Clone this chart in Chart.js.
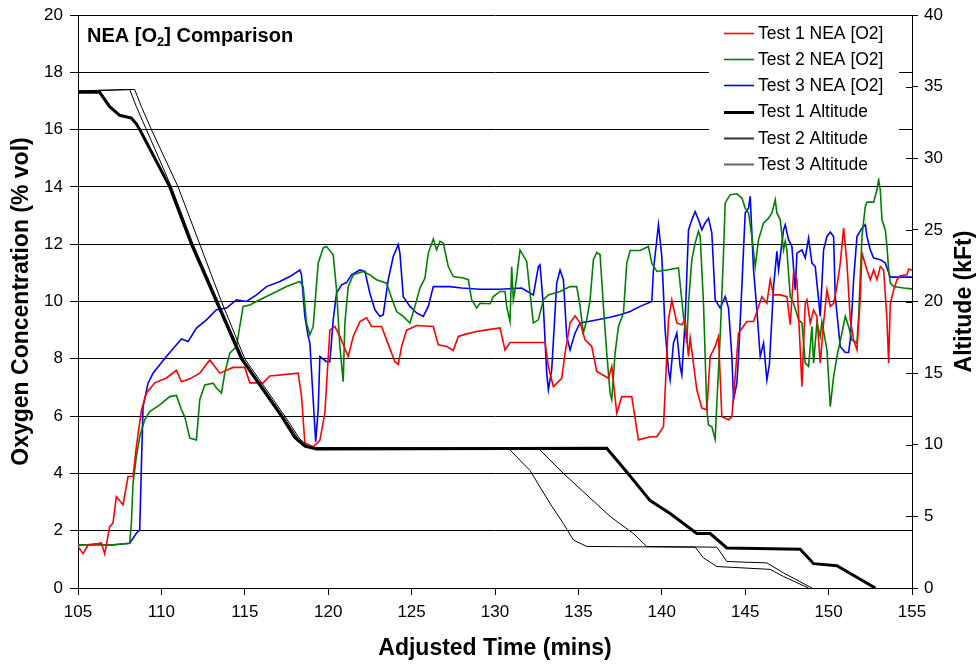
<!DOCTYPE html>
<html>
<head>
<meta charset="utf-8">
<script src="https://cdn.jsdelivr.net/npm/chart.js@4.4.0/dist/chart.umd.min.js"></script>
<style>
html,body{margin:0;padding:0;background:#fff;}
#wrap{width:977px;height:665px;position:relative;}
</style>
</head>
<body>
<div id="wrap"><canvas id="c" width="977" height="665"></canvas></div>
<script>
// ---------- text ----------
const chartTitle = ['NEA [O', '2', '] Comparison'];
const seriesLabels = ['Test 1 NEA [O2]', 'Test 2 NEA [O2]', 'Test 3 NEA [O2]', 'Test 1 Altitude', 'Test 2 Altitude', 'Test 3 Altitude'];
const xTitle = 'Adjusted Time (mins)';
const yTitle = 'Oxygen Concentration (% vol)';
const y2Title = 'Altitude (kFt)';

// ---------- data: [time (mins), value] ----------
const test1Nea = [[105,1.45],[105.3,1.2],[105.6,1.5],[106.2,1.55],[106.4,1.57],[106.6,1.19],[106.9,2.14],[107.1,2.27],[107.3,3.19],[107.7,2.9],[108.0,3.89],[108.3,3.9],[108.5,4.94],[108.8,6.2],[109.1,6.8],[109.6,7.16],[110.3,7.33],[110.9,7.6],[111.2,7.2],[111.7,7.3],[112.3,7.5],[112.9,7.96],[113.5,7.5],[114.3,7.7],[115.0,7.7],[115.3,7.16],[116.1,7.16],[116.5,7.4],[118.2,7.5],[118.4,6.7],[118.6,5.06],[119.1,4.93],[119.5,5.15],[119.8,6.1],[120.1,9.0],[120.4,9.13],[120.7,8.78],[121.2,8.08],[121.5,8.78],[121.9,9.3],[122.3,9.43],[122.6,9.13],[123.2,9.13],[123.5,8.66],[124.0,7.9],[124.2,7.8],[124.4,8.43],[124.7,9.0],[125.3,9.16],[126.3,9.13],[126.6,8.49],[127.1,8.43],[127.5,8.29],[127.8,8.78],[128.3,8.87],[128.9,8.95],[129.5,9.01],[130.3,9.08],[130.6,8.31],[130.9,8.57],[132.3,8.57],[133.0,8.57],[133.2,7.73],[133.5,7.03],[134.0,7.32],[134.2,8.2],[134.5,9.25],[134.8,9.5],[135.1,9.25],[135.4,8.66],[135.8,8.43],[136.1,7.56],[136.8,7.32],[137.0,7.73],[137.3,6.1],[137.6,6.68],[138.2,6.68],[138.6,5.17],[139.3,5.28],[139.7,5.28],[140.1,5.63],[140.4,9.36],[140.6,10.06],[140.9,9.25],[141.2,9.19],[141.4,9.36],[141.6,8.08],[141.7,8.72],[142.1,6.92],[142.4,6.28],[142.7,6.22],[142.9,8.08],[143.2,8.43],[143.4,8.78],[143.6,5.98],[144.0,5.87],[144.2,5.98],[144.4,7.38],[144.6,8.9],[145.1,9.3],[145.5,9.3],[146.0,10.17],[146.3,9.94],[146.5,10.76],[146.7,10.23],[147.1,10.23],[147.5,10.17],[147.7,9.19],[147.9,11.0],[148.1,10.76],[148.3,8.31],[148.4,7.03],[148.6,9.94],[148.7,10.06],[148.9,9.25],[149.1,9.7],[149.3,9.48],[149.5,7.85],[149.7,9.25],[149.9,10.4],[150.1,9.83],[150.3,9.94],[150.5,10.52],[150.7,11.34],[150.9,12.56],[151.1,11.34],[151.3,9.36],[151.5,8.66],[151.7,8.31],[151.9,10.17],[152.0,11.69],[152.3,11.1],[152.5,10.76],[152.7,11.1],[152.9,10.76],[153.1,11.22],[153.3,11.1],[153.5,9.36],[153.6,7.85],[153.7,9.94],[153.9,10.4],[154.1,10.76],[154.3,10.9],[154.7,10.93],[154.8,11.13],[155,11.1]];

const test2Nea = [[105,1.5],[106,1.52],[107,1.5],[108.1,1.56],[108.2,2.27],[108.3,3.66],[108.5,4.59],[108.7,5.28],[109.0,5.87],[109.3,6.16],[109.9,6.39],[110.5,6.68],[110.9,6.72],[111.2,6.22],[111.4,5.98],[111.7,5.23],[112.1,5.17],[112.3,6.57],[112.6,7.09],[113.1,7.15],[113.3,6.98],[113.6,6.8],[113.8,7.5],[114.1,8.2],[114.5,8.43],[114.7,9.13],[114.9,9.83],[115.3,9.88],[115.9,10.06],[116.7,10.29],[117.5,10.52],[118.3,10.7],[118.5,10.52],[118.7,9.25],[118.9,8.84],[119.1,9.13],[119.4,11.34],[119.7,11.87],[119.9,11.92],[120.3,11.63],[120.5,10.4],[120.7,8.43],[120.9,7.2],[121.0,9.25],[121.2,10.52],[121.5,10.93],[122.1,11.05],[122.5,10.93],[122.9,10.76],[123.5,10.64],[123.8,10.12],[124.1,9.65],[124.5,9.48],[124.9,9.25],[125.2,9.83],[125.5,10.47],[125.8,10.82],[126.0,11.69],[126.3,12.18],[126.5,11.8],[126.7,12.1],[126.9,12.04],[127.2,11.22],[127.5,10.87],[128.1,10.82],[128.4,10.76],[128.6,10.06],[128.9,9.77],[129.1,9.94],[129.7,9.92],[129.9,10.17],[130.3,10.35],[130.6,10.35],[130.7,9.83],[130.9,9.3],[131.0,11.22],[131.1,10.06],[131.2,10.4],[131.5,11.8],[131.9,11.4],[132.1,10.29],[132.3,9.25],[132.6,9.36],[132.9,10.06],[133.2,10.23],[133.9,10.35],[134.5,10.52],[134.9,10.52],[135.1,9.83],[135.3,8.9],[135.5,9.36],[135.7,10.06],[135.9,11.46],[136.1,11.71],[136.3,11.63],[136.5,9.83],[136.7,8.2],[136.9,6.8],[137.0,6.57],[137.2,8.2],[137.4,9.13],[137.7,9.6],[137.9,11.34],[138.1,11.78],[138.7,11.78],[139.2,11.92],[139.4,11.34],[139.7,11.05],[140.3,11.1],[141.0,11.17],[141.3,9.48],[141.5,8.55],[141.6,9.94],[141.8,11.46],[142.0,12.04],[142.2,12.45],[142.3,12.27],[142.5,9.94],[142.7,6.22],[142.8,5.69],[143.0,5.63],[143.2,5.19],[143.3,6.45],[143.5,8.78],[143.7,11.69],[143.8,13.44],[144.1,13.73],[144.5,13.76],[144.8,13.61],[145.0,13.26],[145.2,13.09],[145.4,12.27],[145.6,11.22],[145.8,12.16],[146.1,12.74],[146.4,12.91],[146.6,13.09],[146.8,13.55],[146.9,13.09],[147.1,12.85],[147.3,11.8],[147.4,12.1],[147.5,11.8],[147.7,10.17],[147.9,9.94],[148.2,9.36],[148.4,9.25],[148.5,8.55],[148.6,7.85],[148.8,7.73],[149.0,9.13],[149.1,7.85],[149.3,9.25],[149.5,8.78],[149.6,9.3],[149.9,8.31],[150.1,6.33],[150.3,7.38],[150.5,8.08],[150.8,8.9],[151.0,9.48],[151.2,9.13],[151.4,8.66],[151.7,8.55],[151.8,9.48],[152.0,12.27],[152.2,13.32],[152.3,13.47],[152.7,13.47],[152.9,13.9],[153.0,14.25],[153.1,13.9],[153.2,12.85],[153.4,12.5],[153.5,11.92],[153.6,11.1],[153.7,10.64],[153.9,10.52],[154.5,10.47],[155,10.44]];

const test3Nea = [[105,1.5],[106,1.52],[107,1.5],[108.1,1.56],[108.5,1.91],[108.7,2.03],[108.8,4.24],[108.9,6.33],[109.2,7.15],[109.5,7.5],[109.9,7.79],[110.3,8.08],[110.9,8.49],[111.2,8.69],[111.6,8.6],[112.1,9.07],[112.7,9.36],[113.3,9.71],[113.9,9.77],[114.5,10.06],[115.1,10.0],[115.7,10.23],[116.3,10.52],[117.1,10.7],[117.7,10.87],[118.3,11.1],[118.4,10.93],[118.6,9.48],[118.8,8.78],[118.9,8.55],[119.1,6.57],[119.25,5.11],[119.4,6.22],[119.5,8.08],[119.9,7.9],[120.1,7.9],[120.3,9.36],[120.5,10.29],[120.8,10.58],[121.1,10.66],[121.4,10.93],[121.9,11.1],[122.2,11.05],[122.5,10.29],[122.8,9.71],[123.1,9.48],[123.3,9.54],[123.6,10.76],[123.9,11.57],[124.2,11.98],[124.3,11.69],[124.5,10.17],[124.9,9.83],[125.3,9.6],[125.7,9.48],[126.0,9.83],[126.3,10.52],[127.3,10.52],[128.0,10.47],[129.1,10.43],[130.3,10.43],[131.6,10.47],[132.3,10.23],[132.6,11.22],[132.7,11.28],[132.9,9.83],[133.1,7.5],[133.2,6.92],[133.4,7.61],[133.7,10.64],[133.9,11.1],[134.1,10.76],[134.3,8.78],[134.5,8.31],[134.8,8.9],[135.1,9.25],[135.6,9.3],[136.3,9.38],[136.9,9.45],[137.5,9.54],[138.1,9.65],[138.7,9.83],[139.4,10.0],[139.5,11.1],[139.8,12.68],[140.0,11.57],[140.2,9.0],[140.4,7.61],[140.5,7.26],[140.7,8.55],[140.9,8.9],[141.1,7.73],[141.2,7.44],[141.4,9.36],[141.6,12.5],[141.8,12.85],[142.0,13.14],[142.2,12.85],[142.4,12.5],[142.6,12.74],[142.8,12.91],[143.0,12.39],[143.2,10.06],[143.5,9.77],[143.8,10.17],[144.0,9.77],[144.2,8.08],[144.3,6.57],[144.5,7.15],[144.6,8.08],[144.8,10.52],[145.0,13.09],[145.2,13.26],[145.3,13.67],[145.5,11.1],[145.7,9.71],[145.9,8.08],[146.1,8.55],[146.3,7.26],[146.45,7.8],[146.7,10.52],[146.9,11.75],[147.0,11.1],[147.3,12.5],[147.4,12.68],[147.6,12.16],[147.8,11.92],[148.0,10.4],[148.1,11.69],[148.4,11.8],[148.6,11.52],[148.8,12.21],[149.0,11.34],[149.2,11.22],[149.5,9.48],[149.7,11.8],[149.9,12.27],[150.1,12.42],[150.3,12.27],[150.4,10.17],[150.7,8.43],[151.0,8.22],[151.2,8.22],[151.3,8.66],[151.5,10.76],[151.7,12.27],[152.0,12.56],[152.2,12.68],[152.3,12.27],[152.5,11.8],[152.7,11.52],[153.1,11.46],[153.4,11.34],[153.7,10.85],[155,10.85]];

const test1Alt = [[105,34.6],[106.3,34.6],[106.9,33.6],[107.5,33.0],[108.2,32.8],[108.5,32.4],[108.7,32.0],[110.5,28.0],[111.8,24.0],[113.3,20.0],[114.8,16.0],[116.0,14.0],[117.2,12.0],[118.0,10.5],[118.6,9.9],[119.3,9.7],[136.7,9.76],[137.9,8.1],[139.3,6.1],[140.5,5.2],[142.1,3.8],[142.9,3.8],[143.9,2.8],[148.3,2.7],[149.1,1.7],[150.5,1.55],[152.8,0]];

const test2Alt = [[105,34.7],[108.1,34.8],[108.5,33.6],[109.1,32.0],[110.6,28.0],[111.9,24.0],[113.4,20.0],[114.9,16.0],[117.3,12.0],[118.2,10.4],[118.8,9.8],[130.8,9.75],[132.1,8.2],[133.3,5.9],[134.1,4.5],[134.7,3.35],[135.5,2.9],[142.0,2.85],[142.5,2.1],[143.3,1.5],[146.5,1.3],[147.3,0.8],[148.8,0]];

const test3Alt = [[105,34.7],[108.4,34.8],[108.8,33.6],[109.4,32.0],[111.0,28.0],[112.3,24.0],[113.6,20.0],[115.0,16.0],[117.4,12.0],[118.3,10.4],[118.9,9.8],[132.6,9.75],[134.1,8.0],[136.9,5.0],[138.3,3.8],[139.1,2.9],[143.3,2.85],[143.9,1.85],[146.3,1.75],[147.3,1.05],[149.0,0]];

// ---------- chart ----------
const FONT = 'Liberation Sans, Arial, Helvetica, sans-serif';
const toPts = arr => arr.map(p => ({x: p[0], y: p[1]}));

const overlay = {
  id: 'overlay',
  afterDraw(chart) {
    const ctx = chart.ctx, a = chart.chartArea;
    const y2 = chart.scales.y2;
    ctx.save();
    // inner tick marks on secondary axis
    ctx.strokeStyle = '#000'; ctx.lineWidth = 1;
    y2.ticks.forEach(t => {
      const py = Math.round(y2.getPixelForValue(t.value)) + 0.5;
      ctx.beginPath(); ctx.moveTo(a.right - 6, py); ctx.lineTo(a.right, py); ctx.stroke();
    });
    // chart title with subscript
    ctx.fillStyle = '#000'; ctx.textAlign = 'left'; ctx.textBaseline = 'alphabetic';
    let x = a.left + 9; const by = a.top + 27;
    ctx.font = 'bold 20px ' + FONT;
    ctx.fillText(chartTitle[0], x, by); x += ctx.measureText(chartTitle[0]).width;
    ctx.font = 'bold 13px ' + FONT;
    ctx.fillText(chartTitle[1], x, by + 4); x += ctx.measureText(chartTitle[1]).width;
    ctx.font = 'bold 20px ' + FONT;
    ctx.fillText(chartTitle[2], x, by);
    // legend
    const lx = a.right - 203, ly = a.top + 1;
    ctx.fillStyle = '#fff';
    ctx.fillRect(lx, ly, 190, 162);
    ctx.font = '17.5px ' + FONT; ctx.textBaseline = 'middle';
    chart.data.datasets.forEach((ds, i) => {
      const cy = ly + 17 + i * 26.2;
      ctx.strokeStyle = ds.legendColor || ds.borderColor;
      ctx.lineWidth = ds.legendWidth || ds.borderWidth;
      ctx.beginPath(); ctx.moveTo(lx + 15, Math.round(cy) + 0.5); ctx.lineTo(lx + 45, Math.round(cy) + 0.5); ctx.stroke();
      ctx.fillStyle = '#000';
      ctx.fillText(ds.label, lx + 49, cy + 1);
    });
    // secondary axis title (reads bottom to top)
    ctx.translate(965, (a.top + a.bottom) / 2);
    ctx.rotate(-Math.PI / 2);
    ctx.font = 'bold 23px ' + FONT; ctx.textAlign = 'center'; ctx.textBaseline = 'middle';
    ctx.fillStyle = '#000';
    ctx.fillText(y2Title, 0, 0);
    ctx.restore();
  }
};

new Chart(document.getElementById('c'), {
  type: 'line',
  data: {
    datasets: [
      {label: seriesLabels[0], data: toPts(test1Nea), yAxisID: 'y', borderColor: '#ff0000', borderWidth: 1.6, order: 1},
      {label: seriesLabels[1], data: toPts(test2Nea), yAxisID: 'y', borderColor: '#008000', borderWidth: 1.6, order: 1},
      {label: seriesLabels[2], data: toPts(test3Nea), yAxisID: 'y', borderColor: '#0000ff', borderWidth: 1.6, order: 1},
      {label: seriesLabels[3], data: toPts(test1Alt), yAxisID: 'y2', borderColor: '#000000', borderWidth: 3, order: 0},
      {label: seriesLabels[4], data: toPts(test2Alt), yAxisID: 'y2', borderColor: '#000000', borderWidth: 1, legendColor: '#333', legendWidth: 2, order: 0},
      {label: seriesLabels[5], data: toPts(test3Alt), yAxisID: 'y2', borderColor: '#000000', borderWidth: 1, legendColor: '#666', legendWidth: 2, order: 0}
    ]
  },
  options: {
    responsive: false,
    animation: false,
    devicePixelRatio: 1,
    layout: {padding: {top: 15, left: 0, right: 0, bottom: 0}},
    elements: {point: {radius: 0, hoverRadius: 0}, line: {tension: 0}},
    plugins: {legend: {display: false}, tooltip: {enabled: false}, title: {display: false}},
    scales: {
      x: {
        type: 'linear', position: 'bottom', min: 105, max: 155,
        ticks: {stepSize: 5, color: '#000', font: {family: FONT, size: 17}, padding: 7, maxRotation: 0, autoSkip: false},
        grid: {drawOnChartArea: false, drawTicks: true, tickLength: 7, color: '#000'},
        border: {color: '#000', width: 1},
        title: {display: true, text: xTitle, color: '#000', font: {family: FONT, size: 23, weight: 'bold'}, padding: {top: 0, bottom: 3}},
        afterFit(s) { s.height = 77; s.paddingLeft = 0; s.paddingRight = 0; }
      },
      y: {
        type: 'linear', position: 'left', min: 0, max: 20,
        ticks: {stepSize: 2, color: '#000', font: {family: FONT, size: 17}, padding: 7},
        grid: {color: '#000', lineWidth: 1, tickLength: 8},
        border: {color: '#000', width: 1},
        title: {display: true, text: yTitle, color: '#000', font: {family: FONT, size: 23, weight: 'bold'}, padding: {top: 8, bottom: 0}},
        afterFit(s) { s.width = 78; s.paddingTop = 0; s.paddingBottom = 0; }
      },
      y2: {
        type: 'linear', position: 'right', min: 0, max: 40,
        ticks: {stepSize: 5, color: '#000', font: {family: FONT, size: 17}, padding: 6},
        grid: {drawOnChartArea: false, drawTicks: true, tickLength: 6, color: '#000'},
        border: {color: '#000', width: 1},
        afterFit(s) { s.width = 65; s.paddingTop = 0; s.paddingBottom = 0; }
      }
    }
  },
  plugins: [overlay]
});
</script>
</body>
</html>
